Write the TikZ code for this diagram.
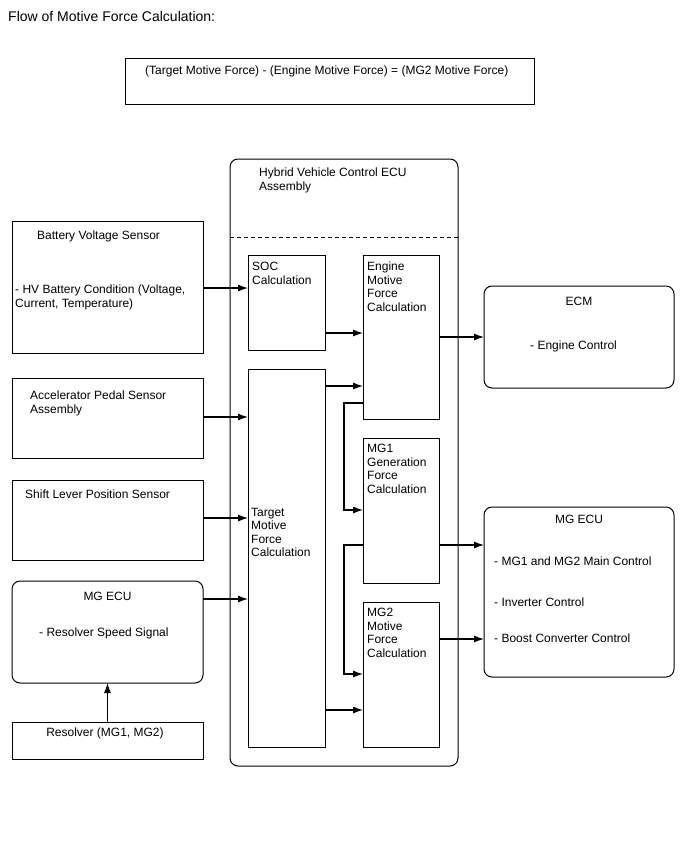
\documentclass[tikz,border=0pt]{standalone}
\usepackage{fontspec}
\setmainfont{Liberation Sans}
\usetikzlibrary{arrows.meta}
\newcommand\bodyfs{\fontsize{12}{13.5}\selectfont}
\newcommand\mkbox[6]{\node[#1, minimum width={#4-#2}, minimum height={#5-#3}] (#6) at ({(#2+#4)/2},{(#3+#5)/2}) {};}
\tikzset{
  box/.style={draw, line width=1pt, inner sep=0pt, outer sep=0pt, rectangle},
  rbox/.style={box, rounded corners=8pt},
  txt/.style={inner sep=0pt, align=left, anchor=north west, font=\bodyfs},
  ctxt/.style={inner sep=0pt, align=center, anchor=north, font=\bodyfs},
  arr/.style={line width=1.1pt, -{Latex[length=10pt,width=7pt]}},
  ln/.style={line width=1.1pt}
}
\begin{document}
\begin{tikzpicture}[x=1pt,y=-1pt]
\useasboundingbox (0,0) rectangle (688,852);
\node[inner sep=0pt, anchor=north west, font=\fontsize{14}{16}\selectfont] (title) at (8,11) {Flow of Motive Force Calculation:};
% formula
\mkbox{box}{125}{58}{534}{104}{formula}
\node[txt] (formulat) at (145,66) {(Target Motive Force) - (Engine Motive Force) = (MG2 Motive Force)};
% HV ECU
\mkbox{rbox}{230}{159}{458}{766}{hv}
\node[txt] (hvt) at (259,168) {Hybrid Vehicle Control ECU\\Assembly};
\draw[line width=1pt, dash pattern=on 4pt off 3pt] (hv.west |- 0,237) -- (hv.east |- 0,237);
% left boxes
\mkbox{box}{12}{221}{203}{353}{bvs}
\node[txt] (bvst) at (37,231) {Battery Voltage Sensor};
\node[txt] (bvst2) at (15,285) {- HV Battery Condition (Voltage,\\Current, Temperature)};
\mkbox{box}{12}{378}{203}{458}{aps}
\node[txt] (apst) at (30,391) {Accelerator Pedal Sensor\\Assembly};
\mkbox{box}{12}{480}{203}{560}{slp}
\node[txt] (slpt) at (25,490) {Shift Lever Position Sensor};
\mkbox{rbox}{12}{581}{203}{683}{mgl}
\node[ctxt] (mglt) at (107.5,592) {MG ECU};
\node[txt] (mglt2) at (39,628) {- Resolver Speed Signal};
\mkbox{box}{12}{722}{203}{759}{res}
\node[ctxt] (rest) at (105,728) {Resolver (MG1, MG2)};
% inner boxes
\mkbox{box}{248}{255}{325}{350}{soc}
\node[txt] (soct) at (252,262) {SOC\\Calculation};
\mkbox{box}{248}{369}{325}{747}{tgt}
\node[txt] (tgtt) at (251,508) {Target\\Motive\\Force\\Calculation};
\mkbox{box}{363}{255}{439}{419}{eng}
\node[txt] (engt) at (367,262) {Engine\\Motive\\Force\\Calculation};
\mkbox{box}{363}{438}{439}{583}{mg1}
\node[txt] (mg1t) at (367,444) {MG1\\Generation\\Force\\Calculation};
\mkbox{box}{363}{602}{439}{747}{mg2}
\node[txt] (mg2t) at (367,608) {MG2\\Motive\\Force\\Calculation};
% right boxes
\mkbox{rbox}{484}{286}{674}{388}{ecm}
\node[ctxt] (ecmt) at (579,297) {ECM};
\node[txt] (ecmt2) at (530,341) {- Engine Control};
\mkbox{rbox}{484}{507}{674}{677}{mgr}
\node[ctxt] (mgrt) at (579,515) {MG ECU};
\node[txt] (mgrt2) at (494,557) {- MG1 and MG2 Main Control};
\node[txt] (mgrt3) at (494,598) {- Inverter Control};
\node[txt] (mgrt4) at (494,634) {- Boost Converter Control};
% connectors
\draw[arr] (bvs.east |- 0,288) -- (soc.west |- 0,288);
\draw[arr] (aps.east |- 0,417) -- (tgt.west |- 0,417);
\draw[arr] (slp.east |- 0,518) -- (tgt.west |- 0,518);
\draw[arr] (mgl.east |- 0,599) -- (tgt.west |- 0,599);
\draw[arr] (res.north) -- (mgl.south);
\draw[arr] (soc.east |- 0,333) -- (eng.west |- 0,333);
\draw[arr] (tgt.east |- 0,386) -- (eng.west |- 0,386);
\draw[arr] (eng.west |- 0,403) -- ++(-19,0) |- (mg1.west |- 0,510);
\draw[arr] (mg1.west |- 0,545) -- ++(-19,0) |- (mg2.west |- 0,674);
\draw[arr] (tgt.east |- 0,710) -- (mg2.west |- 0,710);
\draw[arr] (eng.east |- 0,337) -- (ecm.west |- 0,337);
\draw[arr] (mg1.east |- 0,545) -- (mgr.west |- 0,545);
\draw[arr] (mg2.east |- 0,639) -- (mgr.west |- 0,639);
\end{tikzpicture}
\end{document}
